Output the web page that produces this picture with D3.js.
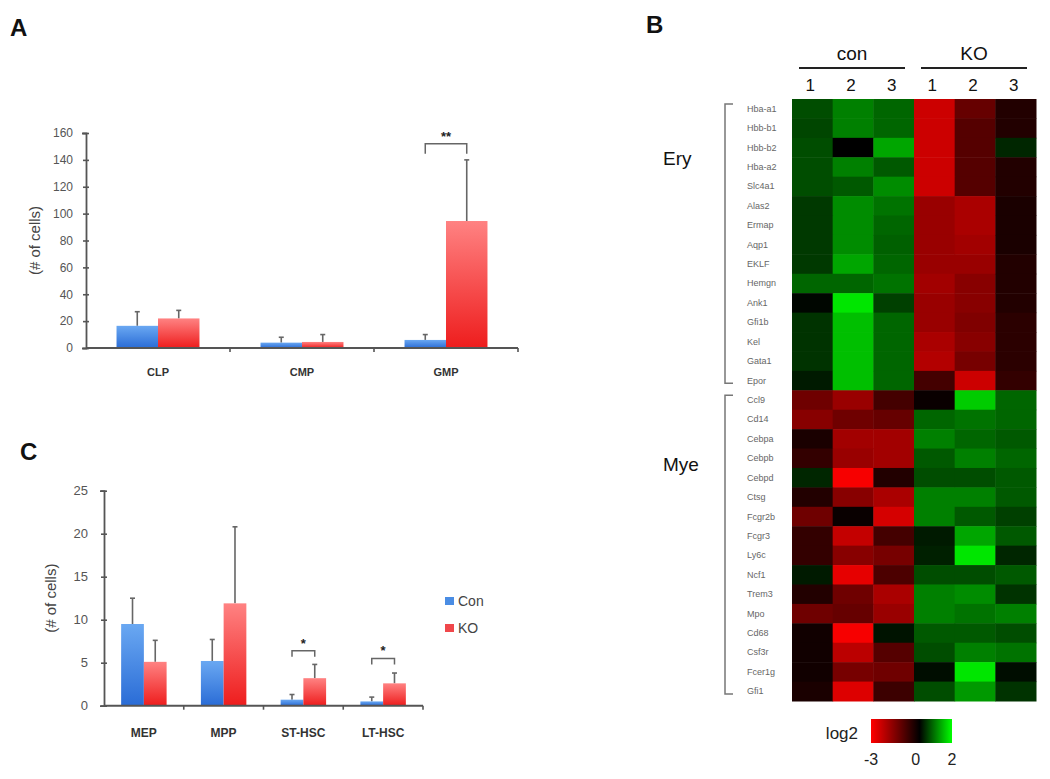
<!DOCTYPE html>
<html><head><meta charset="utf-8">
<script src="https://cdn.jsdelivr.net/npm/d3@7"></script>
<style>
body{margin:0;background:#fff;}
svg{display:block;font-family:"Liberation Sans",Arial,sans-serif;}
</style></head>
<body>
<svg id="chart" width="1050" height="779"></svg>
<script>
// ---------- DATA ----------
const seriesNames = ["Con", "KO"];
// Panel A
const catsA = ["CLP", "CMP", "GMP"];
const conA = [16.5, 4, 6];
const conErrA = [27, 8, 10];
const koA = [22, 4.5, 94.5];
const koErrA = [28, 10, 140];
const ticksA = [0, 20, 40, 60, 80, 100, 120, 140, 160];
const sigA = [{cat: "GMP", level: 152, label: "**"}];
// Panel C
const catsC = ["MEP", "MPP", "ST-HSC", "LT-HSC"];
const conC = [9.5, 5.2, 0.7, 0.5];
const conErrC = [12.5, 7.7, 1.3, 1.0];
const koC = [5.1, 11.9, 3.2, 2.6];
const koErrC = [7.6, 20.8, 4.8, 3.8];
const ticksC = [0, 5, 10, 15, 20, 25];
const sigC = [{cat: "ST-HSC", level: 6.4, label: "*"}, {cat: "LT-HSC", level: 5.5, label: "*"}];
// Panel B heatmap
const sampleGroups = ["con", "KO"];
const sampleNums = ["1", "2", "3", "1", "2", "3"];
const eryGenes = ["Hba-a1","Hbb-b1","Hbb-b2","Hba-a2","Slc4a1","Alas2","Ermap","Aqp1","EKLF","Hemgn","Ank1","Gfi1b","Kel","Gata1","Epor"];
const myeGenes = ["Ccl9","Cd14","Cebpa","Cebpb","Cebpd","Ctsg","Fcgr2b","Fcgr3","Ly6c","Ncf1","Trem3","Mpo","Cd68","Csf3r","Fcer1g","Gfi1"];
const eryValues = [
  [0.6, 1.0, 0.8, -2.4, -1.2, -0.4],
  [0.55, 1.0, 0.8, -2.4, -1.0, -0.4],
  [0.6, 0.0, 1.3, -2.4, -1.0, 0.3],
  [0.6, 1.0, 0.7, -2.4, -1.0, -0.4],
  [0.6, 0.7, 1.1, -2.4, -1.0, -0.4],
  [0.45, 1.1, 0.9, -1.8, -2.0, -0.3],
  [0.45, 1.1, 0.8, -1.8, -2.0, -0.3],
  [0.45, 1.1, 0.75, -1.8, -1.9, -0.3],
  [0.45, 1.3, 0.8, -1.8, -1.8, -0.4],
  [0.8, 0.8, 0.9, -1.9, -1.6, -0.4],
  [0.05, 1.8, 0.5, -1.8, -1.6, -0.4],
  [0.4, 1.5, 0.8, -1.8, -1.5, -0.5],
  [0.4, 1.5, 0.8, -2.0, -1.6, -0.5],
  [0.4, 1.5, 0.8, -2.1, -1.4, -0.5],
  [0.2, 1.5, 0.8, -0.8, -2.4, -0.6]
];
const myeValues = [
  [-1.3, -1.8, -0.8, -0.1, 1.6, 0.8],
  [-1.6, -1.3, -1.2, 0.8, 0.9, 0.8],
  [-0.3, -1.9, -1.9, 1.0, 0.8, 0.7],
  [-0.6, -1.8, -1.9, 0.7, 1.0, 0.8],
  [0.3, -2.9, -0.4, 0.6, 0.6, 0.7],
  [-0.4, -1.6, -2.0, 1.0, 1.0, 0.7],
  [-1.3, -0.1, -2.5, 1.0, 0.7, 0.5],
  [-0.6, -2.3, -0.8, 0.2, 1.3, 0.7],
  [-0.6, -1.6, -1.4, 0.25, 1.8, 0.3],
  [0.2, -2.7, -0.9, 0.6, 0.6, 0.7],
  [-0.4, -1.3, -2.0, 1.0, 1.1, 0.4],
  [-1.3, -1.2, -1.8, 1.0, 0.9, 1.0],
  [-0.2, -2.9, 0.15, 0.7, 0.7, 0.6],
  [-0.2, -2.2, -1.0, 0.6, 1.0, 0.9],
  [-0.2, -1.4, -1.3, 0.1, 1.8, 0.1],
  [-0.3, -2.6, -0.7, 0.6, 1.2, 0.4]
];
const colorDomain = [-3, 0, 2];
const colorTicks = [-3, 0, 2];

// ---------- DRAW ----------
const svg = d3.select("#chart");
const defs = svg.append("defs");
function grad(id, top, bottom) {
  const g = defs.append("linearGradient").attr("id", id).attr("x1", 0).attr("y1", 0).attr("x2", 0).attr("y2", 1);
  g.append("stop").attr("offset", "0%").attr("stop-color", top);
  g.append("stop").attr("offset", "100%").attr("stop-color", bottom);
}
grad("gBlue", "#6aa8f2", "#2a6cd6");
grad("gRed", "#ff8282", "#ee1d1d");
const fills = ["url(#gBlue)", "url(#gRed)"];
const axisColor = "#555";

function barPanel(opt) {
  const g = svg.append("g");
  const x = d3.scaleBand().domain(opt.cats).range([opt.x0, opt.x1]).paddingInner(opt.pad).paddingOuter(opt.pad / 2);
  const xs = d3.scaleBand().domain([0, 1]).range([0, x.bandwidth()]);
  const y = d3.scaleLinear().domain([0, opt.ticks[opt.ticks.length - 1]]).range([opt.y0, opt.y1]);

  const data = [];
  opt.cats.forEach((c, i) => {
    data.push({c, s: 0, v: opt.con[i], e: opt.conErr[i]});
    data.push({c, s: 1, v: opt.ko[i], e: opt.koErr[i]});
  });
  const cx = d => x(d.c) + xs(d.s) + xs.bandwidth() / 2;
  const eb = g.selectAll(".eb").data(data).join("g").attr("stroke", "#666").attr("stroke-width", 1.6);
  eb.append("line").attr("x1", cx).attr("x2", cx).attr("y1", d => y(d.v)).attr("y2", d => y(d.e));
  eb.append("line").attr("x1", d => cx(d) - 2.5).attr("x2", d => cx(d) + 2.5)
    .attr("y1", d => y(d.e)).attr("y2", d => y(d.e));
  g.selectAll(".bar").data(data).join("rect")
    .attr("x", d => x(d.c) + xs(d.s))
    .attr("width", xs.bandwidth())
    .attr("y", d => y(d.v))
    .attr("height", d => y(0) - y(d.v))
    .attr("fill", d => fills[d.s]);

  const ya = g.append("g").attr("transform", `translate(${opt.x0},0)`)
    .call(d3.axisLeft(y).tickValues(opt.ticks).tickSize(4).tickPadding(opt.tickPad).tickFormat(d3.format("d")));
  ya.select(".domain").attr("stroke", axisColor).attr("stroke-width", 1.8);
  ya.selectAll(".tick line").attr("stroke", axisColor).attr("stroke-width", 1.6).attr("x2", 3).attr("x1", -3);
  ya.selectAll(".tick text").attr("fill", "#555").style("font-size", opt.tickFont + "px").style("font-family", "Liberation Sans, Arial");

  g.append("line").attr("x1", opt.x0).attr("x2", opt.x1).attr("y1", y(0)).attr("y2", y(0))
    .attr("stroke", axisColor).attr("stroke-width", 2);
  g.selectAll(".sep").data(d3.range(1, opt.cats.length + 1)).join("line")
    .attr("x1", i => opt.x0 + i * x.step()).attr("x2", i => opt.x0 + i * x.step())
    .attr("y1", y(0)).attr("y2", y(0) + 4)
    .attr("stroke", axisColor).attr("stroke-width", 1.6);
  g.selectAll(".cat").data(opt.cats).join("text")
    .attr("x", d => x(d) + x.bandwidth() / 2).attr("y", y(0) + opt.catDy)
    .attr("text-anchor", "middle").attr("fill", "#333")
    .style("font-size", opt.catFont + "px").style("font-weight", "bold").text(d => d);

  g.append("text").attr("transform", `translate(${opt.labelX},${(opt.y0 + opt.y1) / 2}) rotate(-90)`)
    .attr("text-anchor", "middle").attr("fill", "#444").style("font-size", "15px").text("(# of cells)");

  opt.sig.forEach(s => {
    const xl = x(s.cat) + xs(0) + xs.bandwidth() / 2;
    const xr = x(s.cat) + xs(1) + xs.bandwidth() / 2;
    const yy = y(s.level);
    g.append("path").attr("d", `M${xl},${yy + opt.leg}V${yy}H${xr}V${yy + opt.leg}`)
      .attr("fill", "none").attr("stroke", "#666").attr("stroke-width", 1.5);
    g.append("text").attr("x", (xl + xr) / 2).attr("y", yy - 3).attr("text-anchor", "middle")
      .attr("fill", "#222").style("font-size", "13px").style("font-weight", "bold").text(s.label);
  });
  return {x, y};
}

barPanel({cats: catsA, con: conA, conErr: conErrA, ko: koA, koErr: koErrA, ticks: ticksA,
  x0: 86, x1: 518, y0: 348, y1: 133, pad: 0.424, tickPad: 9, tickFont: 12, catDy: 28, catFont: 11,
  labelX: 40, sig: sigA, leg: 10});
barPanel({cats: catsC, con: conC, conErr: conErrC, ko: koC, koErr: koErrC, ticks: ticksC,
  x0: 104, x1: 423, y0: 705.7, y1: 490.7, pad: 0.43, tickPad: 12, tickFont: 13, catDy: 31, catFont: 12,
  labelX: 56, sig: sigC, leg: 6});

// legend C
const leg = svg.append("g");
seriesNames.forEach((n, i) => {
  leg.append("rect").attr("x", 445).attr("y", 597 + i * 27).attr("width", 9).attr("height", 8).attr("fill", i ? "#f0474b" : "#4a8de4");
  leg.append("text").attr("x", 458).attr("y", 606 + i * 27).attr("fill", "#444").style("font-size", "14px").text(n);
});

// panel letters
[["A", 10, 36], ["B", 646, 33], ["C", 20, 460]].forEach(([t, x, y]) => {
  svg.append("text").attr("x", x).attr("y", y).style("font-size", "24px").style("font-weight", "bold").attr("fill", "#111").text(t);
});

// ---------- HEATMAP ----------
const genes = eryGenes.concat(myeGenes);
const values = eryValues.concat(myeValues);
const hx = d3.scaleBand().domain(d3.range(sampleNums.length)).range([792, 1036]);
const hy = d3.scaleBand().domain(genes).range([99, 701]);
const color = d3.scaleLinear().domain(colorDomain).range(["#ff0000", "#000000", "#00ff00"]).clamp(true);
const hm = svg.append("g");
genes.forEach((gname, r) => {
  hm.selectAll(null).data(values[r]).join("rect")
    .attr("x", (d, c) => hx(c)).attr("y", hy(gname))
    .attr("width", hx.bandwidth() + 0.5).attr("height", hy.bandwidth() + 0.5)
    .attr("fill", d => color(d));
});
hm.selectAll(".gl").data(genes).join("text")
  .attr("x", 747).attr("y", d => hy(d) + hy.bandwidth() / 2 + 3)
  .attr("fill", "#666").style("font-size", "9px").text(d => d);
hm.selectAll(".sn").data(sampleNums).join("text")
  .attr("x", (d, i) => hx(i) + hx.bandwidth() / 2 - 2).attr("y", 91)
  .attr("text-anchor", "middle").attr("fill", "#111").style("font-size", "17px").text(d => d);
sampleGroups.forEach((gname, gi) => {
  const xa = hx(gi * 3) + 7, xb = hx(gi * 3 + 2) + hx.bandwidth() - 9;
  hm.append("line").attr("x1", xa).attr("x2", xb).attr("y1", 68).attr("y2", 68).attr("stroke", "#222").attr("stroke-width", 2.2);
  hm.append("text").attr("x", (xa + xb) / 2).attr("y", 60).attr("text-anchor", "middle")
    .attr("fill", "#111").style("font-size", "19px").text(gname);
});
[[eryGenes, "Ery", 165], [myeGenes, "Mye", 471]].forEach(([gs, lab, ly]) => {
  const ya = hy(gs[0]) + 5, yb = hy(gs[gs.length - 1]) + hy.bandwidth() - 7;
  hm.append("path").attr("d", `M733,${ya}H725V${yb}H733`).attr("fill", "none").attr("stroke", "#777").attr("stroke-width", 1.5);
  hm.append("text").attr("x", 663).attr("y", ly).attr("fill", "#111").style("font-size", "19px").text(lab);
});
// colorbar
const cb = svg.append("g");
const cbScale = d3.scaleLinear().domain([colorDomain[0], colorDomain[2]]).range([871, 952]);
const cg = defs.append("linearGradient").attr("id", "gCb").attr("x1", 0).attr("x2", 1).attr("y1", 0).attr("y2", 0);
colorDomain.forEach(v => cg.append("stop")
  .attr("offset", ((cbScale(v) - 871) / (952 - 871) * 100) + "%").attr("stop-color", color(v)));
cb.append("rect").attr("x", 871).attr("y", 719).attr("width", 952 - 871).attr("height", 24).attr("fill", "url(#gCb)");
cb.append("text").attr("x", 858).attr("y", 739).attr("text-anchor", "end").attr("fill", "#222").style("font-size", "17px").text("log2");
cb.selectAll(".ct").data(colorTicks).join("text")
  .attr("x", d => cbScale(d) + (d === 0 ? -4 : 0)).attr("y", 765).attr("text-anchor", "middle")
  .attr("fill", "#222").style("font-size", "16px").text(d => d);
</script>
</body></html>
